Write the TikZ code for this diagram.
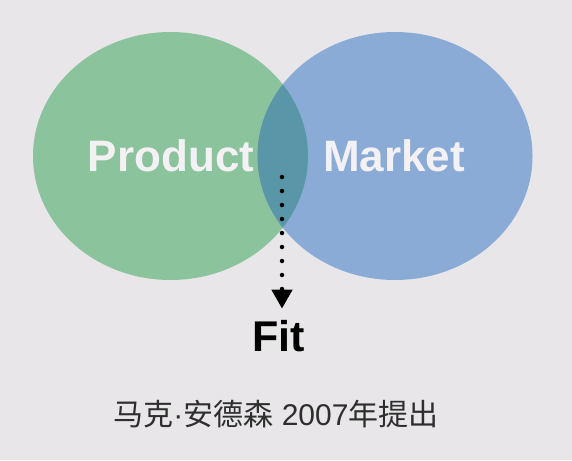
\documentclass[tikz,border=0pt]{standalone}
\usepackage{fontspec}
\setmainfont{Liberation Sans}
\newfontfamily\cjk{Noto Sans CJK SC}
\usetikzlibrary{arrows.meta,shapes.geometric}
\definecolor{bgc}{HTML}{E9E6EA}
\definecolor{prodc}{HTML}{8BC39C}
\definecolor{mktc}{HTML}{8AABD6}
\definecolor{lensc}{HTML}{5896A8}
\definecolor{labc}{HTML}{F3F1F4}
\definecolor{capc}{HTML}{2E2E2E}
\tikzset{
  circ/.style={ellipse, minimum width=275pt, minimum height=248pt, inner sep=0pt},
  biglabel/.style={font=\fontsize{44}{44}\selectfont\bfseries, inner sep=0pt, anchor=base},
  dotline/.style={line width=4.5pt, line cap=round, dash pattern=on 0pt off 14pt},
}
\begin{document}
\begin{tikzpicture}[x=1pt,y=-1pt]
\fill[bgc] (0,0) rectangle (572,460);
\useasboundingbox (0,0) rectangle (572,460);
\node[circ, fill=prodc] (pc) at (170.5,156) {};
\node[circ, fill=mktc] (mc) at (395,156) {};
\begin{scope}
  \clip (170.5,156) ellipse [x radius=137.5, y radius=124];
  \fill[lensc] (395,156) ellipse [x radius=137.5, y radius=124];
\end{scope}
\node[biglabel, text=labc] (prod) at (171,171) {Product};
\node[biglabel, text=labc] (mkt) at (394,171) {Market};
\node[biglabel, text=black, font=\fontsize{43}{43}\selectfont\bfseries] (fit) at (278.5,351) {Fit};
\coordinate (dotstart) at (282,177);
\draw[dotline, shorten >=11pt, -{Triangle[width=20pt,length=19pt]}] (dotstart) -- (dotstart |- fit.north);
\node[font=\fontsize{30}{30}\selectfont, text=capc, inner sep=0pt] (cap) at (276,414) {{\cjk 马克}{·}{\cjk 安德森} 2007{\cjk 年提出}};
\end{tikzpicture}
\end{document}
